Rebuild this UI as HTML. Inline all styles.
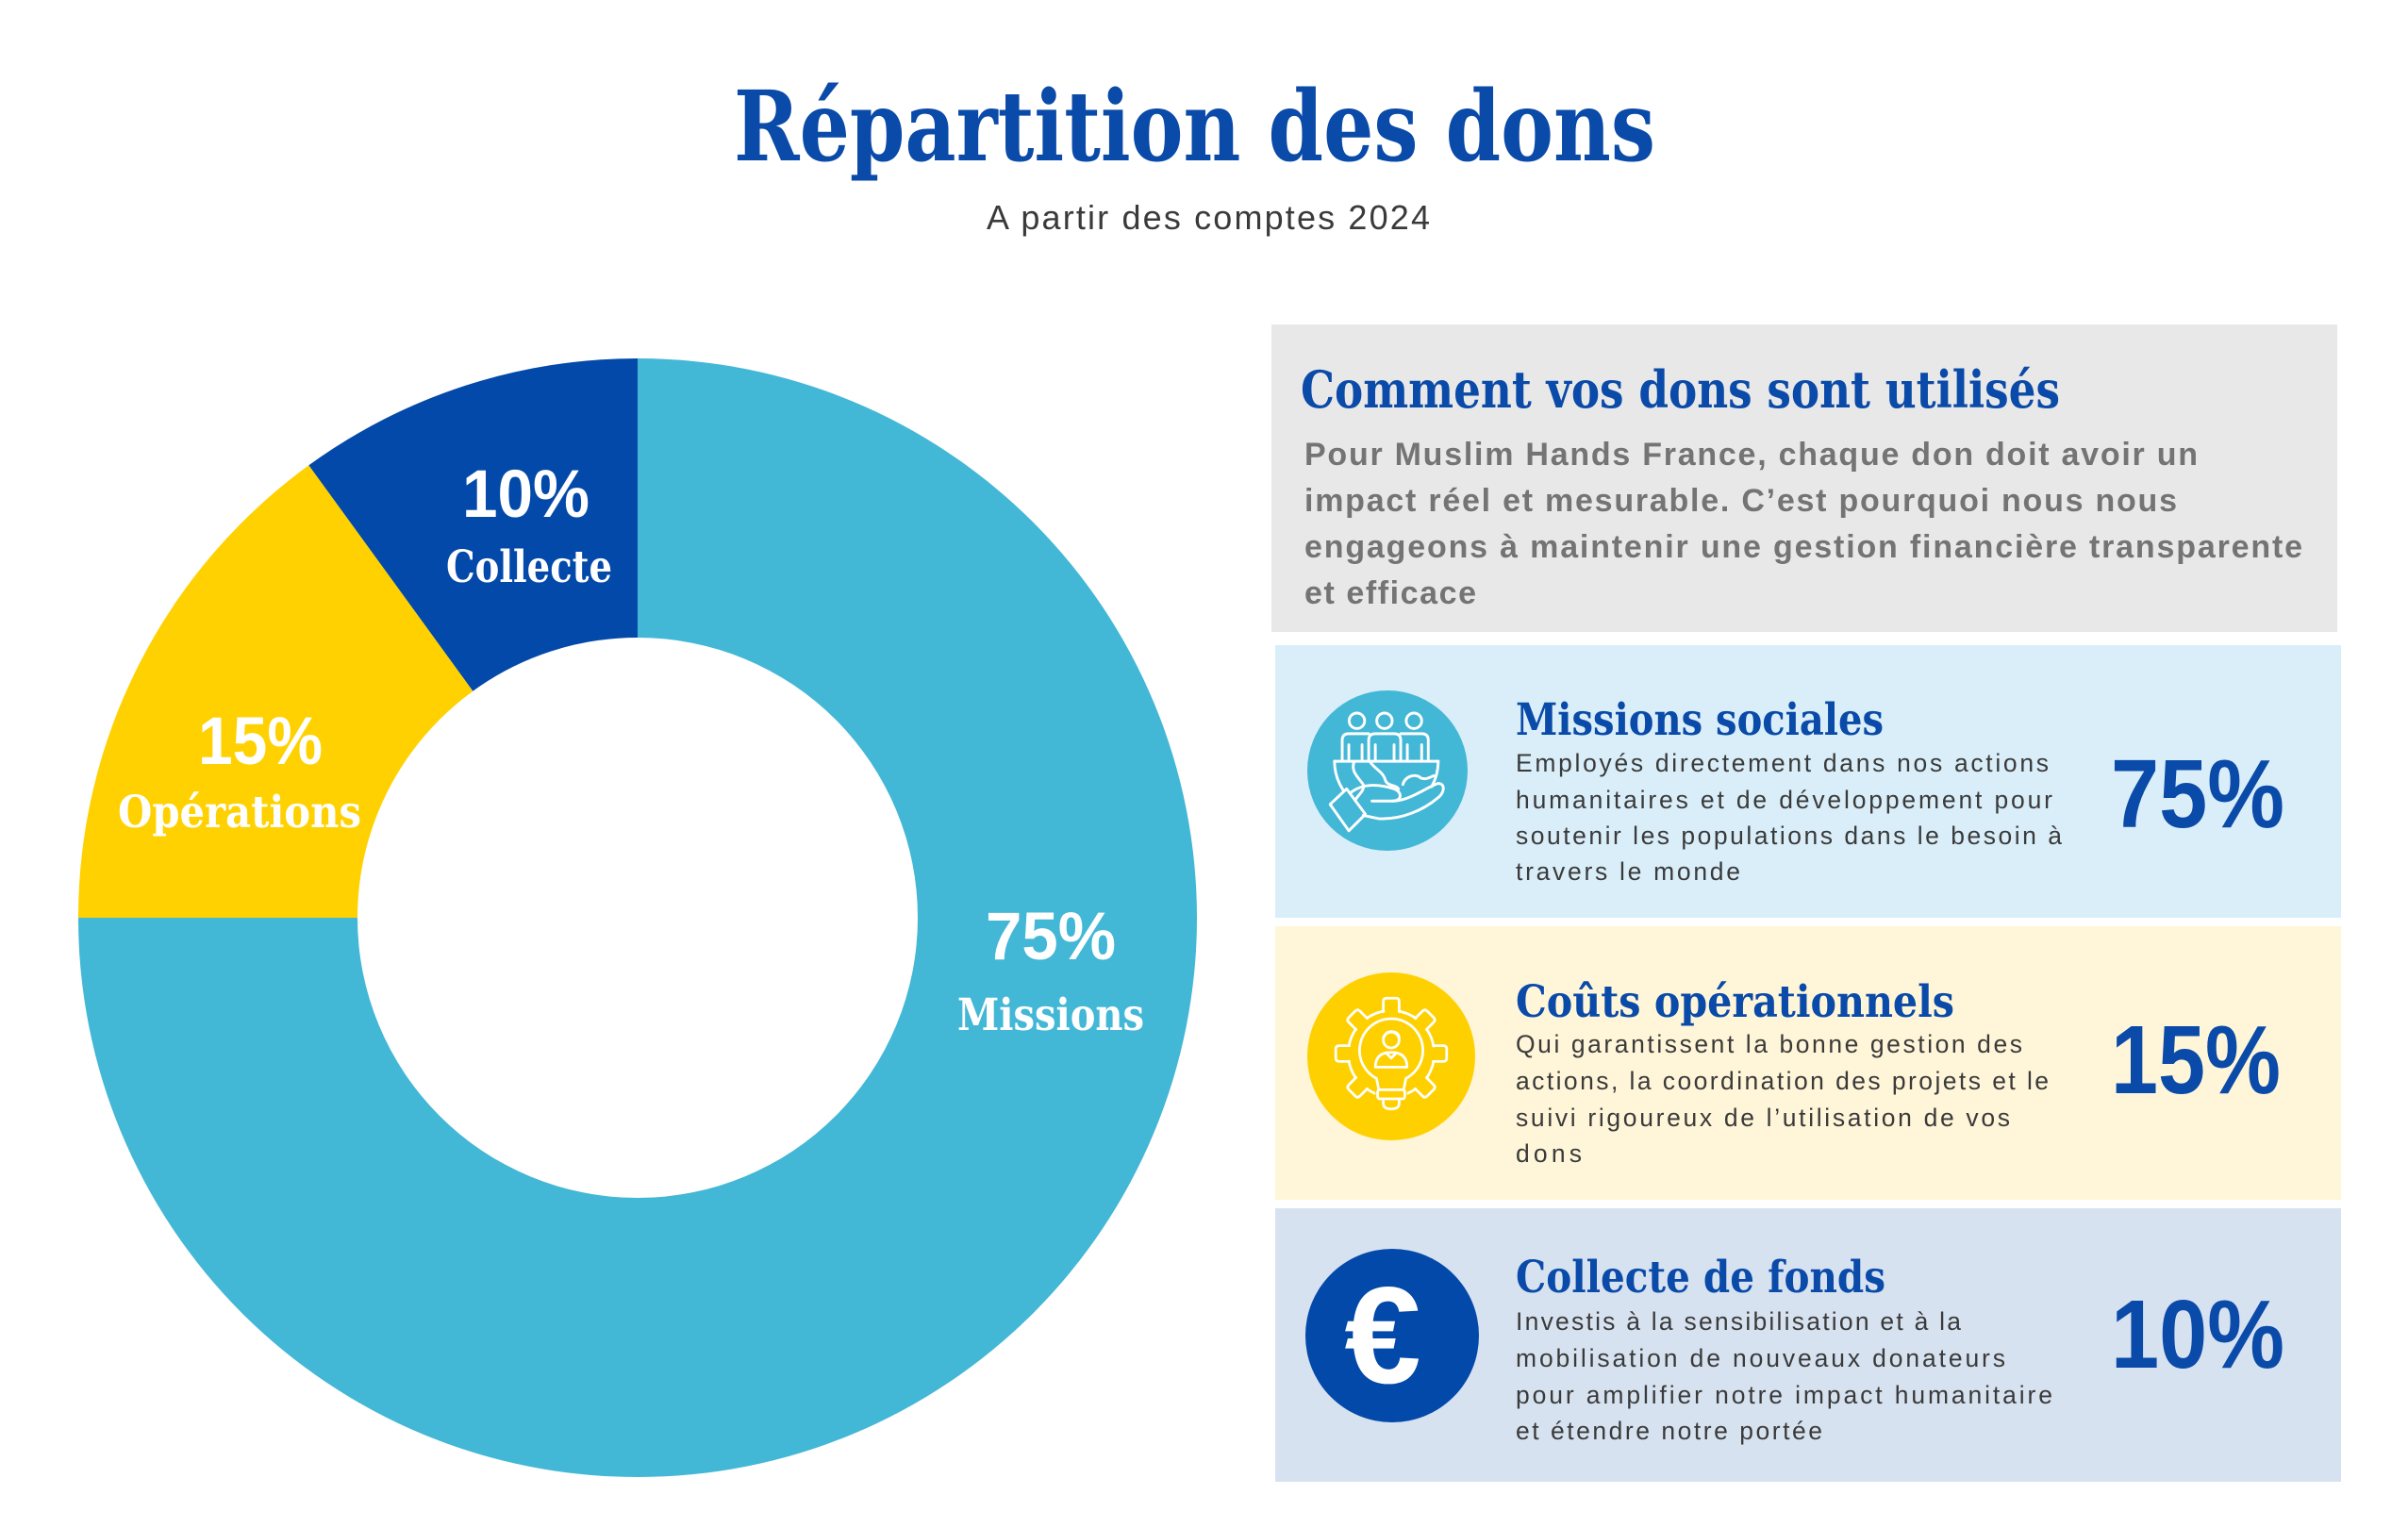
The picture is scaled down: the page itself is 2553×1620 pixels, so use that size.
<!DOCTYPE html>
<html lang="fr">
<head>
<meta charset="utf-8">
<title>Répartition des dons</title>
<style>
  html, body { margin: 0; padding: 0; background: #ffffff; }
  body { width: 2553px; height: 1620px; overflow: hidden; }
  svg { display: block; }
  .slab { font-family: "DejaVu Serif", "Liberation Serif", serif; font-weight: bold; }
  .sans { font-family: "Liberation Sans", "DejaVu Sans", sans-serif; }
  .sansb { font-family: "Liberation Sans", "DejaVu Sans", sans-serif; font-weight: bold; }
</style>
</head>
<body>
<svg xmlns="http://www.w3.org/2000/svg" width="2553" height="1620" viewBox="0 0 2553 1620">
  <rect x="0" y="0" width="2553" height="1620" fill="#ffffff"/>

  <!-- Title -->
  <text class="slab" x="778" y="170" font-size="103" fill="#0a4aa8" textLength="977" lengthAdjust="spacingAndGlyphs">Répartition des dons</text>
  <text class="sans" x="1046" y="243" font-size="36" fill="#3a3a3a" textLength="470" lengthAdjust="spacing">A partir des comptes 2024</text>

  <!-- Donut -->
  <path d="M 676,380 A 593,593 0 1 1 83,973 L 379,973 A 297,297 0 1 0 676,676 Z" fill="#43b7d6"/>
  <path d="M 83,973 A 593,593 0 0 1 327.4,493.3 L 501.4,732.7 A 297,297 0 0 0 379,973 Z" fill="#ffd100"/>
  <path d="M 327.4,493.3 A 593,593 0 0 1 676,380 L 676,676 A 297,297 0 0 0 501.4,732.7 Z" fill="#0349aa"/>

  <!-- Donut labels -->
  <text class="sansb" x="490" y="548" font-size="71" fill="#ffffff" textLength="135" lengthAdjust="spacingAndGlyphs">10%</text>
  <text class="slab" x="473" y="617" font-size="47" fill="#ffffff" textLength="176" lengthAdjust="spacingAndGlyphs">Collecte</text>
  <text class="sansb" x="210" y="810" font-size="71" fill="#ffffff" textLength="132" lengthAdjust="spacingAndGlyphs">15%</text>
  <text class="slab" x="125" y="877" font-size="47" fill="#ffffff" textLength="258" lengthAdjust="spacingAndGlyphs">Opérations</text>
  <text class="sansb" x="1045" y="1017" font-size="71" fill="#ffffff" textLength="138" lengthAdjust="spacingAndGlyphs">75%</text>
  <text class="slab" x="1015" y="1092" font-size="47" fill="#ffffff" textLength="198" lengthAdjust="spacingAndGlyphs">Missions</text>

  <!-- Gray intro box -->
  <rect x="1348" y="344" width="1130" height="326" fill="#e8e8e8"/>
  <text class="slab" x="1379" y="432" font-size="54" fill="#0a4aa8" textLength="805" lengthAdjust="spacingAndGlyphs">Comment vos dons sont utilisés</text>
  <text class="sansb" x="1383" y="493" font-size="34" fill="#747474" textLength="947" lengthAdjust="spacing">Pour Muslim Hands France, chaque don doit avoir un</text>
  <text class="sansb" x="1383" y="542" font-size="34" fill="#747474" textLength="925" lengthAdjust="spacing">impact réel et mesurable. C’est pourquoi nous nous</text>
  <text class="sansb" x="1383" y="591" font-size="34" fill="#747474" textLength="1058" lengthAdjust="spacing">engageons à maintenir une gestion financière transparente</text>
  <text class="sansb" x="1383" y="640" font-size="34" fill="#747474" textLength="182" lengthAdjust="spacing">et efficace</text>

  <!-- Card 1: Missions sociales -->
  <rect x="1352" y="684" width="1130" height="289" fill="#d9eef9"/>
  <circle cx="1471" cy="817" r="85" fill="#43b7d6"/>
  <g transform="translate(1471,820) scale(1.17)" fill="none" stroke="#ffffff" stroke-width="2.5" stroke-linecap="round" stroke-linejoin="round">
    <circle cx="-27.7" cy="-47.7" r="7"/>
    <circle cx="-2.7" cy="-47.7" r="7"/>
    <circle cx="24" cy="-47.7" r="7"/>
    <path d="M -41,-11 V -30 Q -41,-36 -35,-36 H -17"/>
    <path d="M -17,-11 V -30 Q -17,-36 -11,-36 H 6 Q 12,-36 12,-30 V -11"/>
    <path d="M 12,-36 H 31 Q 37,-36 37,-30 V -11"/>
    <path d="M -35,-11 V -26 M -23,-11 V -26 M -11,-11 V -26 M 6,-11 V -26 M 18,-11 V -26 M 31,-11 V -26"/>
    <path d="M -48,-11 H 46"/>
    <path d="M -48,-11 A 47,47 0 0 0 -30,26"/>
    <path d="M 46,-11 A 47,47 0 0 1 40,12"/>
    <path d="M -30,-11 C -34,-2 -26,4 -22,10 C -20,16 -28,20 -30,26"/>
    <path d="M -16,-11 C -12,-4 -4,-2 -2,6 C 0,12 8,10 10,14"/>
    <path d="M 14,10 C 16,2 26,0 30,4 C 34,6 38,4 42,2"/>
    <path d="M -52,28 L -37,14 L -20,37 L -35,52 Z" fill="#43b7d6"/>
    <path d="M -34,18 C -22,8 -6,10 6,14 C 14,17 13,25 5,25 H -14" fill="none"/>
    <path d="M 5,25 C 20,25 36,12 46,9 C 52,9 52,16 47,21 C 32,34 12,42 -8,41 L -22,38"/>
  </g>
  <text class="slab" x="1607" y="779" font-size="47" fill="#0a4aa8" textLength="390" lengthAdjust="spacingAndGlyphs">Missions sociales</text>
  <text class="sans" x="1607" y="818" font-size="26.5" fill="#3a3a3a" textLength="565" lengthAdjust="spacing">Employés directement dans nos actions</text>
  <text class="sans" x="1607" y="857" font-size="26.5" fill="#3a3a3a" textLength="569" lengthAdjust="spacing">humanitaires et de développement pour</text>
  <text class="sans" x="1607" y="895" font-size="26.5" fill="#3a3a3a" textLength="579" lengthAdjust="spacing">soutenir les populations dans le besoin à</text>
  <text class="sans" x="1607" y="933" font-size="26.5" fill="#3a3a3a" textLength="238" lengthAdjust="spacing">travers le monde</text>
  <text class="sansb" x="2238" y="877" font-size="103" fill="#0a4aa8" textLength="184" lengthAdjust="spacingAndGlyphs">75%</text>

  <!-- Card 2: Coûts opérationnels -->
  <rect x="1352" y="982" width="1130" height="290" fill="#fff5d8"/>
  <circle cx="1475" cy="1120" r="89" fill="#ffd000"/>
  <g transform="translate(1475,1117) scale(1.2)" fill="none" stroke="#ffffff" stroke-width="2.3" stroke-linecap="round" stroke-linejoin="round">
    <circle cx="0" cy="0" r="38" stroke-dasharray="15.85 14" stroke-dashoffset="22.85"/>
    <g>
      <path d="M -7,-37 V -46 Q -7,-49 -4,-49 H 4 Q 7,-49 7,-46 V -37" transform="rotate(0)"/>
      <path d="M -7,-37 V -46 Q -7,-49 -4,-49 H 4 Q 7,-49 7,-46 V -37" transform="rotate(45)"/>
      <path d="M -7,-37 V -46 Q -7,-49 -4,-49 H 4 Q 7,-49 7,-46 V -37" transform="rotate(90)"/>
      <path d="M -7,-37 V -46 Q -7,-49 -4,-49 H 4 Q 7,-49 7,-46 V -37" transform="rotate(135)"/>
      <path d="M -7,-37 V -46 Q -7,-49 -4,-49 H 4 Q 7,-49 7,-46 V -37" transform="rotate(225)"/>
      <path d="M -7,-37 V -46 Q -7,-49 -4,-49 H 4 Q 7,-49 7,-46 V -37" transform="rotate(270)"/>
      <path d="M -7,-37 V -46 Q -7,-49 -4,-49 H 4 Q 7,-49 7,-46 V -37" transform="rotate(315)"/>
    </g>
    <rect x="-14" y="30" width="28" height="14" fill="#ffd000" stroke="none"/>
    <path d="M -13,22 A 28,28 0 1 1 13,22 L 11,32 H -11 Z" fill="#ffd000"/>
    <rect x="-12" y="32" width="24" height="8" rx="2" fill="#ffd000"/>
    <path d="M -7,40 V 44 Q -7,49 0,49 Q 7,49 7,44 V 40"/>
    <circle cx="0" cy="-12" r="7"/>
    <path d="M -7,-14 Q -4,-21 3,-19 Q 7,-18 7,-13"/>
    <path d="M -14,12 Q -14,-1 0,-1 Q 14,-1 14,12 Z"/>
    <path d="M -4,0 L 0,4 L 4,0"/>
  </g>
  <text class="slab" x="1607" y="1078" font-size="47" fill="#0a4aa8" textLength="465" lengthAdjust="spacingAndGlyphs">Coûts opérationnels</text>
  <text class="sans" x="1607" y="1116" font-size="26.5" fill="#3a3a3a" textLength="537" lengthAdjust="spacing">Qui garantissent la bonne gestion des</text>
  <text class="sans" x="1607" y="1155" font-size="26.5" fill="#3a3a3a" textLength="565" lengthAdjust="spacing">actions, la coordination des projets et le</text>
  <text class="sans" x="1607" y="1194" font-size="26.5" fill="#3a3a3a" textLength="524" lengthAdjust="spacing">suivi rigoureux de l’utilisation de vos</text>
  <text class="sans" x="1607" y="1232" font-size="26.5" fill="#3a3a3a" textLength="70" lengthAdjust="spacing">dons</text>
  <text class="sansb" x="2238" y="1159" font-size="103" fill="#0a4aa8" textLength="180" lengthAdjust="spacingAndGlyphs">15%</text>

  <!-- Card 3: Collecte de fonds -->
  <rect x="1352" y="1281" width="1130" height="290" fill="#d7e2f0"/>
  <circle cx="1476" cy="1416" r="92" fill="#0349aa"/>
  <text class="sansb" x="1466" y="1466" font-size="146" fill="#ffffff" text-anchor="middle">€</text>
  <text class="slab" x="1607" y="1370" font-size="47" fill="#0a4aa8" textLength="392" lengthAdjust="spacingAndGlyphs">Collecte de fonds</text>
  <text class="sans" x="1607" y="1410" font-size="26.5" fill="#3a3a3a" textLength="472" lengthAdjust="spacing">Investis à la sensibilisation et à la</text>
  <text class="sans" x="1607" y="1449" font-size="26.5" fill="#3a3a3a" textLength="519" lengthAdjust="spacing">mobilisation de nouveaux donateurs</text>
  <text class="sans" x="1607" y="1488" font-size="26.5" fill="#3a3a3a" textLength="569" lengthAdjust="spacing">pour amplifier notre impact humanitaire</text>
  <text class="sans" x="1607" y="1526" font-size="26.5" fill="#3a3a3a" textLength="325" lengthAdjust="spacing">et étendre notre portée</text>
  <text class="sansb" x="2238" y="1450" font-size="103" fill="#0a4aa8" textLength="184" lengthAdjust="spacingAndGlyphs">10%</text>
</svg>
</body>
</html>
